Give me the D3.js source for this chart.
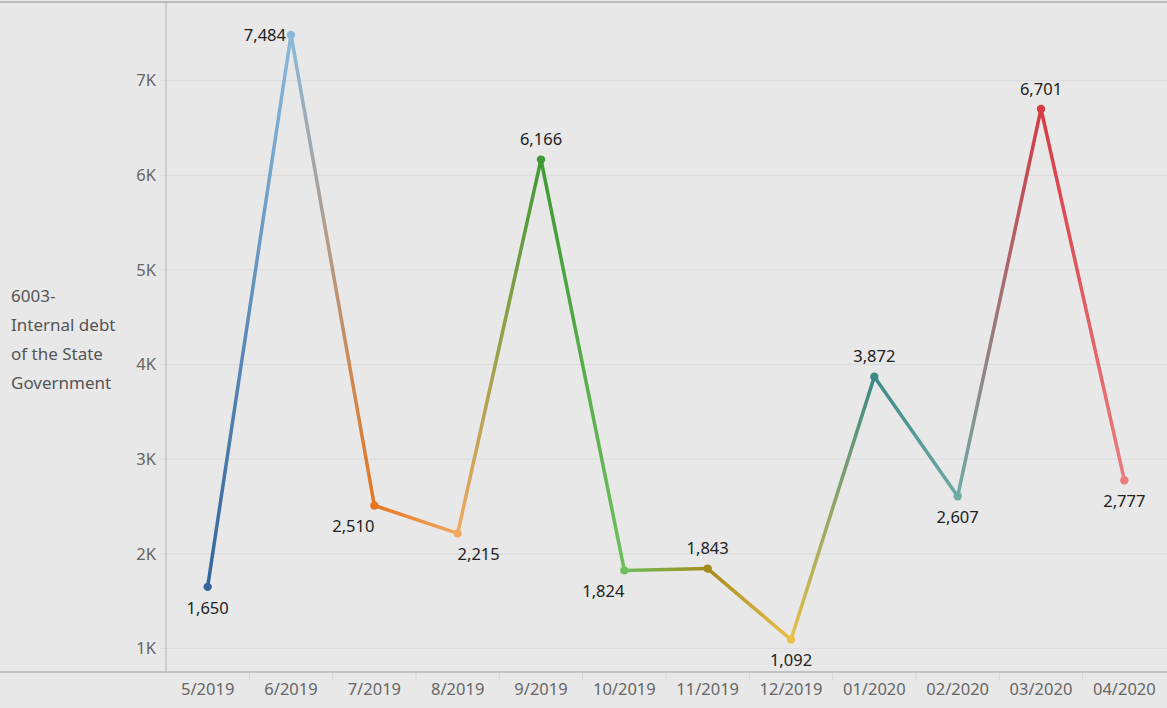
<!DOCTYPE html>
<html>
<head>
<meta charset="utf-8">
<script src="https://cdn.jsdelivr.net/npm/d3@7"></script>
<style>
  body { margin: 0; background: #e8e8e8; }
  svg { display: block; }
  text { font-family: "Noto Sans", "Open Sans", sans-serif; }
</style>
</head>
<body>
<div class="canvas"></div>
<script>
// data
const months = ['5/2019', '6/2019', '7/2019', '8/2019', '9/2019', '10/2019',
                '11/2019', '12/2019', '01/2020', '02/2020', '03/2020', '04/2020'];
const values = [1650, 7484, 2510, 2215, 6166, 1824, 1843, 1092, 3872, 2607, 6701, 2777];
const colors = ['#35659b', '#8ab8da', '#e6761f', '#f0a860', '#3f9a35', '#6cbf5c',
                '#a58a1e', '#e8c04a', '#3b8a86', '#6faaa4', '#d63a43', '#ec7b7b'];
// where each label sits relative to its point
const labelPos = ['below', 'left', 'belowLeft', 'belowRight', 'above', 'belowLeft',
                  'above', 'below', 'above', 'below', 'above', 'below'];
const yTicks = [1000, 2000, 3000, 4000, 5000, 6000, 7000];
const yTitle = ['6003-', 'Internal debt', 'of the State', 'Government'];

const width = 1167, height = 708;
const margin = { top: 5, right: 1, bottom: 36, left: 166 };

const svg = d3.select('.canvas')
  .append('svg')
  .attr('width', width)
  .attr('height', height);

svg.append('rect').attr('width', width).attr('height', height).attr('fill', '#e8e8e8');

// scales
const x = d3.scaleBand()
  .domain(months)
  .range([margin.left, width - margin.right]);
const y = d3.scaleLinear()
  .domain([750, 7800])
  .range([height - margin.bottom, margin.top]);

// top border
svg.append('line')
  .attr('x1', 0).attr('x2', width).attr('y1', 2).attr('y2', 2)
  .attr('stroke', '#bdbdbd').attr('stroke-width', 2);

// grid lines
svg.append('g')
  .selectAll('line')
  .data(yTicks)
  .join('line')
  .attr('x1', margin.left - 6)
  .attr('x2', width)
  .attr('y1', d => y(d))
  .attr('y2', d => y(d))
  .attr('stroke', '#dadada')
  .attr('stroke-width', 1);

// y axis
const yAxis = d3.axisLeft(y)
  .tickValues(yTicks)
  .tickFormat(d => d / 1000 + 'K')
  .tickSize(0)
  .tickPadding(10);
const yAxisGroup = svg.append('g')
  .attr('transform', `translate(${margin.left}, 0)`)
  .call(yAxis);
yAxisGroup.select('.domain').remove();
yAxisGroup.selectAll('text')
  .attr('fill', '#666')
  .attr('font-size', 16.5);

svg.append('line')
  .attr('x1', margin.left).attr('x2', margin.left)
  .attr('y1', 2).attr('y2', height - margin.bottom)
  .attr('stroke', '#bcbcbc').attr('stroke-width', 1.2);

// x axis
const xAxis = d3.axisBottom(x).tickSize(0).tickPadding(11);
const xAxisGroup = svg.append('g')
  .attr('transform', `translate(0, ${height - margin.bottom})`)
  .call(xAxis);
xAxisGroup.select('.domain').remove();
xAxisGroup.selectAll('text')
  .attr('fill', '#666')
  .attr('font-size', 16.5);

// band dividers under the axis
svg.append('g')
  .selectAll('line')
  .data(months.slice(1))
  .join('line')
  .attr('x1', d => x(d)).attr('x2', d => x(d))
  .attr('y1', height - margin.bottom).attr('y2', height - margin.bottom + 8)
  .attr('stroke', '#d6d6d6');

svg.append('line')
  .attr('x1', 0).attr('x2', width)
  .attr('y1', height - margin.bottom).attr('y2', height - margin.bottom)
  .attr('stroke', '#b5b5b5').attr('stroke-width', 1.5);

// y title
svg.append('text')
  .attr('x', 11)
  .attr('y', 302)
  .attr('fill', '#555')
  .attr('font-size', 17)
  .selectAll('tspan')
  .data(yTitle)
  .join('tspan')
  .attr('x', 11)
  .attr('dy', (d, i) => i === 0 ? 0 : 29)
  .text(d => d);

// points
const pts = months.map((m, i) => ({
  m, v: values[i], c: colors[i], pos: labelPos[i],
  px: x(m) + x.bandwidth() / 2, py: y(values[i])
}));

// gradients for each segment
const defs = svg.append('defs');
const segs = d3.pairs(pts);
segs.forEach(([a, b], i) => {
  const g = defs.append('linearGradient')
    .attr('id', 'seg' + i)
    .attr('gradientUnits', 'userSpaceOnUse')
    .attr('x1', a.px).attr('y1', a.py)
    .attr('x2', b.px).attr('y2', b.py);
  g.append('stop').attr('offset', '0%').attr('stop-color', a.c);
  g.append('stop').attr('offset', '100%').attr('stop-color', b.c);
});

svg.append('g')
  .selectAll('line')
  .data(segs)
  .join('line')
  .attr('x1', d => d[0].px).attr('y1', d => d[0].py)
  .attr('x2', d => d[1].px).attr('y2', d => d[1].py)
  .attr('stroke', (d, i) => `url(#seg${i})`)
  .attr('stroke-width', 3.5)
  .attr('stroke-linecap', 'round');

svg.append('g')
  .selectAll('circle')
  .data(pts)
  .join('circle')
  .attr('cx', d => d.px)
  .attr('cy', d => d.py)
  .attr('r', 4.2)
  .attr('fill', d => d.c);

// labels
const fmt = d3.format(',');
const off = {
  above: [0, -20, 'middle'],
  below: [0, 21, 'middle'],
  left: [-5, 0, 'end'],
  belowLeft: [-21, 21, 'middle'],
  belowRight: [21, 21, 'middle']
};
svg.append('g')
  .selectAll('text')
  .data(pts)
  .join('text')
  .attr('x', d => d.px + off[d.pos][0])
  .attr('y', d => d.py + off[d.pos][1])
  .attr('dy', '0.35em')
  .attr('text-anchor', d => off[d.pos][2])
  .attr('fill', '#222')
  .attr('font-size', 16.5)
  .text(d => fmt(d.v));
</script>
</body>
</html>
